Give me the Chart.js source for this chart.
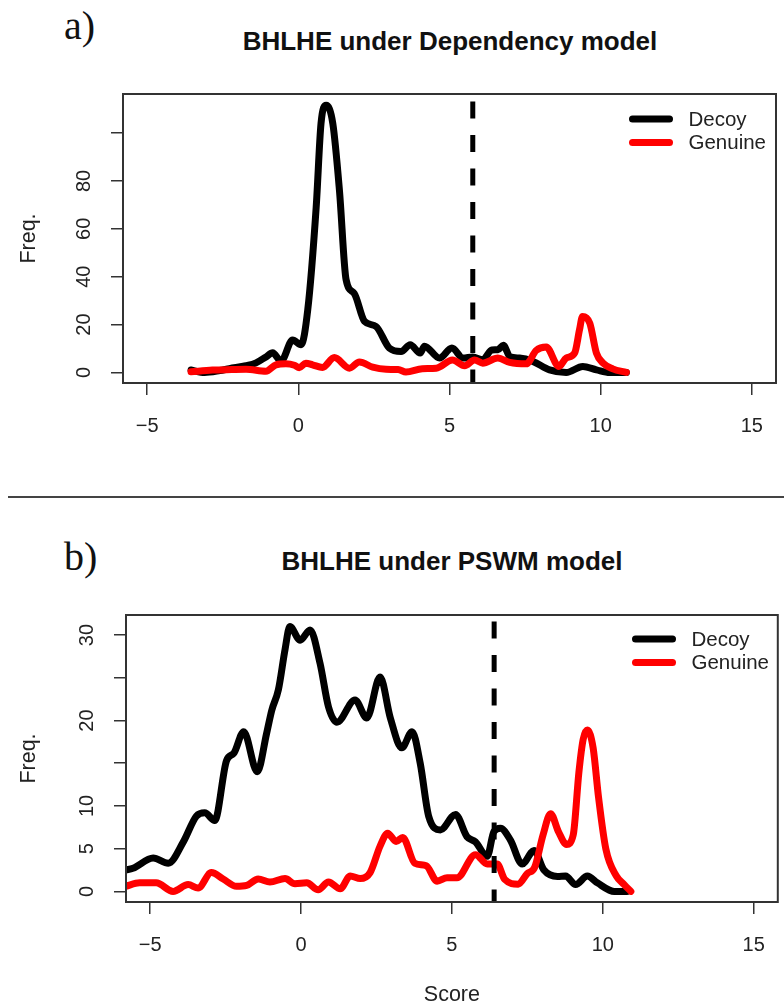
<!DOCTYPE html>
<html>
<head>
<meta charset="utf-8">
<script src="https://cdn.jsdelivr.net/npm/chart.js@4.4.0/dist/chart.umd.min.js"></script>
<style>
  body { margin:0; background:#fff; width:784px; height:1008px; position:relative; overflow:hidden; }
  canvas { position:absolute; left:0; }
  .tag { position:absolute; font-family:"Liberation Serif", serif; font-size:40px; line-height:40px; color:#111; }
  .ttl { position:absolute; width:600px; text-align:center; font-family:"Liberation Sans", Arial, sans-serif; font-weight:bold; font-size:26px; line-height:26px; color:#111; }
  .rule { position:absolute; left:8px; width:776px; top:496px; height:2px; background:#444; }
</style>
</head>
<body>
<div class="tag" style="left:64px;top:6px">a)</div>
<div class="ttl" style="left:150px;top:28px">BHLHE under Dependency model</div>
<canvas id="chartA" width="784" height="490" style="top:0"></canvas>
<div class="rule"></div>
<div class="tag" style="left:64px;top:537px">b)</div>
<div class="ttl" style="left:152px;top:548px">BHLHE under PSWM model</div>
<canvas id="chartB" width="784" height="508" style="top:500px"></canvas>
<script>
// shared x axis
const xTicks = [-5, 0, 5, 10, 15];

// a) Dependency model
const decoyScoreA = [-3.55, -3.1, -2.6, -2.28, -1.73, -1.4, -1.07, -0.85, -0.57, -0.19, 0.09, 0.31, 0.59, 0.75, 0.92, 1.14, 1.36, 1.58, 1.85, 2.19, 2.57, 3.01, 3.4, 3.7, 4.03, 4.17, 4.67, 5.08, 5.45, 5.77, 6.1, 6.4, 6.6, 6.78, 7.0, 7.32, 7.76, 8.31, 8.86, 9.41, 9.86, 10.3, 10.85];
const decoyFreqA  = [1.0, 0.0, 0.8, 1.6, 2.8, 4.0, 6.5, 8.2, 4.8, 13.6, 11.6, 26, 69, 104, 111.6, 104, 76, 38.7, 33, 21.3, 19.2, 10.2, 8.8, 11.6, 8.1, 11.0, 6.0, 10.2, 6.0, 6.5, 5.3, 9.4, 9.5, 11.4, 6.5, 6.0, 4.6, 1.1, 0.0, 2.5, 1.1, 0.0, 0.0];
const genuineScoreA = [-3.55, -2.84, -2.2, -1.73, -1.07, -0.74, -0.41, -0.13, 0.03, 0.25, 0.47, 0.8, 1.19, 1.69, 2.02, 2.46, 2.9, 3.3, 3.56, 4.1, 4.56, 5.1, 5.5, 5.83, 6.1, 6.6, 6.99, 7.54, 7.87, 8.2, 8.62, 8.86, 9.14, 9.3, 9.4, 9.64, 9.86, 10.08, 10.4, 10.85];
const genuineFreqA  = [0.3, 1.0, 1.2, 1.3, 0.5, 3.2, 3.6, 3.0, 2.0, 3.9, 3.2, 2.1, 6.2, 1.8, 4.4, 2.2, 1.3, 1.2, 0.2, 1.6, 1.8, 5.2, 2.8, 5.2, 3.9, 6.0, 4.2, 3.6, 9.2, 10.6, 2.5, 6.0, 8.1, 17.8, 23.4, 20.6, 8.1, 3.9, 1.5, 0.0];
const yTicksA = [0, 20, 40, 60, 80, 100];
const yLabelsA = [0, 20, 40, 60, 80];
const cutoffA = 5.77;

// b) PSWM model
const decoyScoreB = [-5.81, -5.57, -4.9, -4.4, -3.9, -3.47, -3.19, -2.86, -2.47, -2.22, -1.9, -1.45, -1.14, -0.97, -0.75, -0.53, -0.37, -0.03, 0.3, 0.63, 0.91, 1.19, 1.79, 2.18, 2.62, 2.96, 3.34, 3.68, 3.95, 4.23, 4.62, 5.12, 5.5, 5.78, 6.17, 6.39, 6.61, 6.94, 7.33, 7.72, 8.05, 8.5, 8.77, 9.1, 9.49, 9.82, 10.38, 10.8];
const decoyFreqB  = [2.5, 2.7, 3.9, 3.3, 5.8, 8.8, 9.2, 8.3, 15.3, 16.2, 18.7, 14.0, 18.5, 21.2, 23.6, 28.3, 31.0, 29.4, 30.6, 26.7, 21.6, 19.8, 22.4, 20.3, 25.1, 20.3, 16.8, 18.7, 15.0, 8.8, 7.2, 9.0, 6.4, 5.8, 4.1, 7.0, 7.4, 6.0, 3.2, 4.8, 2.5, 1.75, 1.8, 0.8, 1.8, 1.0, 0.0, 0.0];
const genuineScoreB = [-5.81, -5.35, -4.8, -4.24, -3.74, -3.41, -2.97, -2.58, -2.14, -1.8, -1.42, -1.03, -0.53, -0.2, 0.19, 0.57, 0.91, 1.3, 1.63, 1.96, 2.29, 2.62, 2.87, 3.15, 3.37, 3.77, 4.15, 4.51, 4.84, 5.17, 5.78, 6.17, 6.5, 6.75, 7.2, 7.5, 7.74, 8.02, 8.27, 8.53, 8.8, 9.02, 9.21, 9.35, 9.49, 9.68, 9.86, 10.1, 10.45, 10.71, 10.93];
const genuineFreqB  = [0.6, 1.0, 1.0, 0.0, 0.8, 0.4, 2.2, 1.45, 0.6, 0.7, 1.45, 1.1, 1.5, 0.9, 1.0, 0.2, 1.1, 0.3, 1.8, 1.5, 2.2, 5.3, 6.8, 5.85, 6.3, 3.3, 3.0, 1.2, 1.6, 1.6, 4.3, 3.2, 3.2, 1.4, 0.85, 2.1, 2.8, 6.6, 9.1, 7.0, 5.5, 6.6, 14.0, 17.8, 18.9, 16.8, 11.0, 5.0, 1.8, 0.8, 0.0];
const yTicksB = [0, 5, 10, 15, 20, 25, 30];
const yLabelsB = [0, 5, 10, 20, 30];
const cutoffB = 6.4;

const FONT = '"Liberation Sans", Arial, sans-serif';
Chart.defaults.font.family = FONT;
Chart.defaults.color = '#222';

const pts = (xs, ys) => xs.map((x, i) => ({x: x, y: ys[i]}));

// box, rotated y labels and legend drawn R-style
const rFrame = {
  id: 'rFrame',
  afterDraw(chart, args, opts) {
    const ctx = chart.ctx, a = chart.chartArea, y = chart.scales.y;
    ctx.save();
    ctx.strokeStyle = '#333';
    ctx.lineWidth = 2;
    ctx.strokeRect(a.left, a.top, a.right - a.left, a.bottom - a.top);

    ctx.fillStyle = '#222';
    ctx.font = '20px ' + FONT;
    ctx.textAlign = 'center';
    ctx.textBaseline = 'alphabetic';
    opts.yLabels.forEach(v => {
      ctx.save();
      ctx.translate(a.left - 33.5, y.getPixelForValue(v));
      ctx.rotate(-Math.PI / 2);
      ctx.fillText(String(v), 0, 0);
      ctx.restore();
    });

    ctx.font = '20.5px ' + FONT;
    ctx.textAlign = 'left';
    ctx.textBaseline = 'middle';
    ctx.lineCap = 'round';
    ctx.lineWidth = 7;
    opts.legend.forEach((item, i) => {
      const ly = opts.legendY + i * 23.5;
      ctx.strokeStyle = item.color;
      ctx.beginPath();
      ctx.moveTo(opts.legendX, ly);
      ctx.lineTo(opts.legendX + 37, ly);
      ctx.stroke();
      ctx.fillStyle = '#222';
      ctx.fillText(item.text, opts.legendX + 56, ly + 1);
    });
    ctx.restore();
  }
};

function makeChart(id, p) {
  return new Chart(document.getElementById(id), {
    type: 'line',
    data: {
      datasets: [
        {
          label: 'cutoff',
          data: [{x: p.cutoff, y: p.cutTop}, {x: p.cutoff, y: p.yMin}],
          borderColor: '#000', borderWidth: 5, borderDash: [17, 16.5],
          borderCapStyle: 'butt', pointRadius: 0, tension: 0
        },
        {
          label: 'Genuine',
          data: pts(p.gx, p.gy),
          borderColor: '#ff0000', borderWidth: 7, pointRadius: 0,
          borderJoinStyle: 'round', borderCapStyle: 'round',
          cubicInterpolationMode: 'monotone'
        },
        {
          label: 'Decoy',
          data: pts(p.dx, p.dy),
          borderColor: '#000', borderWidth: 7, pointRadius: 0,
          borderJoinStyle: 'round', borderCapStyle: 'round',
          cubicInterpolationMode: 'monotone'
        }
      ]
    },
    options: {
      responsive: false,
      animation: false,
      layout: { padding: { top: p.top, right: p.right, left: 0, bottom: 0 } },
      plugins: {
        legend: { display: false },
        tooltip: { enabled: false },
        rFrame: {
          yLabels: p.yLabels,
          legendX: p.legendX, legendY: p.legendY,
          legend: [{text: 'Decoy', color: '#000'}, {text: 'Genuine', color: '#ff0000'}]
        }
      },
      scales: {
        x: {
          type: 'linear', min: -5.8, max: 15.8,
          afterBuildTicks: s => { s.ticks = xTicks.map(v => ({value: v})); },
          afterFit: s => { s.height = p.xHeight; },
          grid: { drawOnChartArea: false, drawTicks: true, tickLength: 12, color: '#333', lineWidth: 1.5 },
          border: { display: false },
          ticks: {
            autoSkip: false, maxRotation: 0, padding: 19, color: '#222',
            font: { size: 20 },
            callback: v => v < 0 ? '\u2212' + Math.abs(v) : String(v)
          },
          title: {
            display: p.xTitle, text: 'Score', color: '#222',
            font: { size: 21.5 }, padding: { top: 0, bottom: 0 }
          }
        },
        y: {
          type: 'linear', min: p.yMin, max: p.yMax,
          afterBuildTicks: s => { s.ticks = p.yTicks.map(v => ({value: v})); },
          afterFit: s => { s.width = p.yWidth; },
          grid: { drawOnChartArea: false, drawTicks: true, tickLength: 12, color: '#333', lineWidth: 1.5 },
          border: { display: false },
          ticks: { display: false },
          title: {
            display: true, text: 'Freq.', color: '#222',
            font: { size: 21.5 }, padding: { top: 16, bottom: 0 }
          }
        }
      }
    },
    plugins: [rFrame]
  });
}

makeChart('chartA', {
  dx: decoyScoreA, dy: decoyFreqA, gx: genuineScoreA, gy: genuineFreqA,
  cutoff: cutoffA, cutTop: 113.2,
  yMin: -4.4, yMax: 116.3, yTicks: yTicksA, yLabels: yLabelsA,
  top: 94, right: 8, xHeight: 107, yWidth: 123, xTitle: false,
  legendX: 632.5, legendY: 119
});

makeChart('chartB', {
  dx: decoyScoreB, dy: decoyFreqB, gx: genuineScoreB, gy: genuineFreqB,
  cutoff: cutoffB, cutTop: 31.6,
  yMin: -1.24, yMax: 32.35, yTicks: yTicksB, yLabels: yLabelsB,
  top: 115, right: 6, xHeight: 106, yWidth: 126, xTitle: true,
  legendX: 635.5, legendY: 139
});
</script>
</body>
</html>
